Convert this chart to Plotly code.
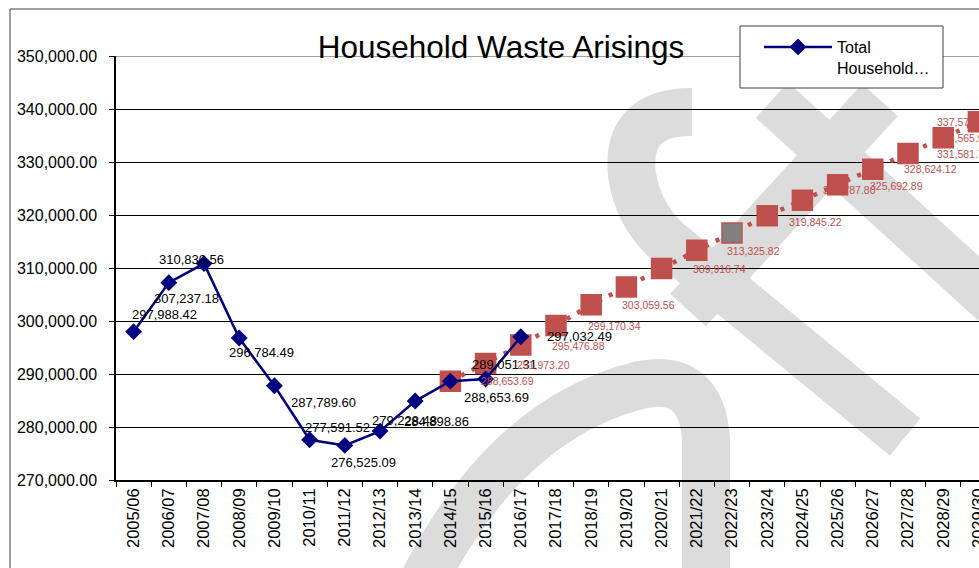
import plotly.graph_objects as go

# ---------------- data ----------------
categories = ["2005/06", "2006/07", "2007/08", "2008/09", "2009/10", "2010/11",
              "2011/12", "2012/13", "2013/14", "2014/15", "2015/16", "2016/17",
              "2017/18", "2018/19", "2019/20", "2020/21", "2021/22", "2022/23",
              "2023/24", "2024/25", "2025/26", "2026/27", "2027/28", "2028/29",
              "2029/30"]

hist_categories = categories[:12]
hist_values = [297988.42, 307237.18, 310830.56, 296784.49, 287789.60, 277591.52,
               276525.09, 279228.48, 284898.86, 288653.69, 289051.31, 297032.49]

forecast_categories = categories[9:]
forecast_values = [288653.69, 291973.20, 295476.88, 299170.34, 303059.56, 306430.00,
                   309916.74, 313325.82, 316600.00, 319845.22, 322787.80, 325692.89,
                   328624.12, 331581.74, 334565.98, 337577.07]
forecast_labelled = [True, True, True, True, True, False, True, True, False, True,
                     True, True, True, True, True, True]

series_name = "Total<br>Household…"
title_text = "Household Waste Arisings"

# ---------------- styling ----------------
NAVY = "#000080"
RED = "#C0504D"
GREY_MARK = "#808080"
WM = "#DCDCDC"
FONT = "Liberation Sans, Arial, sans-serif"

W, H = 979, 568
PL, PR, PT, PB = 116, 979, 56, 480   # plot area in pixels

# label offsets (pixels, right / down) relative to each point
hist_label_offsets = [(31, -17), (18, 16), (-13, -4), (22, 14), (49, 17), (28, -12),
                      (19, 17), (24, -11), (21, 20), (46, 16), (19, -15), (59, 0)]
forecast_label_offsets = [(29, 0), (29, 1), (29, 1), (30, 1), (29, 0), (29, 0),
                          (29, 1), (28, 1), (29, 0), (20, 6), (19, -10), (30, 1),
                          (29, 0), (27, 0), (-8, 0), (-43, 0)]
forecast_marker_colors = [GREY_MARK if c == "2022/23" else RED for c in forecast_categories]


def px(x, y):
    """pixel -> paper coordinates"""
    return (x - PL) / (PR - PL), (PB - y) / (PB - PT)


def path(cmds):
    out = []
    for c in cmds:
        if isinstance(c, str):
            out.append(c)
        else:
            a, b = px(*c)
            out.append(f"{a:.4f},{b:.4f}")
    return " ".join(out)


fig = go.Figure()

fig.add_trace(go.Scatter(
    x=forecast_categories, y=forecast_values, mode="lines+markers",
    line=dict(color=RED, width=4.5, dash="4px,8px"),
    marker=dict(symbol="square", size=20, color=forecast_marker_colors,
                line=dict(color=RED, width=1.5)),
    showlegend=False, name="Forecast", hoverinfo="x+y"))

fig.add_trace(go.Scatter(
    x=hist_categories, y=hist_values, mode="lines+markers",
    line=dict(color=NAVY, width=2.5),
    marker=dict(symbol="diamond", size=13, color=NAVY),
    name=series_name, hoverinfo="x+y"))

annotations = []
for c, v, (dx, dy) in zip(hist_categories, hist_values, hist_label_offsets):
    annotations.append(dict(x=c, y=v, xref="x", yref="y", text=f"{v:,.2f}",
                            showarrow=False, xshift=dx, yshift=-dy,
                            font=dict(family=FONT, size=13, color="black")))
for c, v, show, (dx, dy) in zip(forecast_categories, forecast_values,
                                forecast_labelled, forecast_label_offsets):
    if show:
        annotations.append(dict(x=c, y=v, xref="x", yref="y", text=f"{v:,.2f}",
                                showarrow=False, xanchor="left", xshift=dx, yshift=-dy,
                                font=dict(family=FONT, size=10.5, color=RED)))

shapes = []
# watermark strokes
wm_paths = [
    ["M", (692, 112), "Q", (625, 112), (632, 175), "Q", (638, 215), (668, 242), "L", (905, 437)],
    ["M", (772, 100), "L", (1000, 308)],
    ["M", (880, 100), "L", (688, 310)],
    ["M", (415, 598), "Q", (500, 420), (640, 385), "Q", (702, 372), (706, 440), "L", (706, 600)],
]
for p in wm_paths:
    shapes.append(dict(type="path", xref="paper", yref="paper", path=path(p),
                       line=dict(color=WM, width=48), layer="below"))

# lighter top gridline
shapes.append(dict(type="line", xref="paper", yref="y", x0=0, x1=1, y0=350000, y1=350000,
                   line=dict(color="#808080", width=1.5), layer="between"))

# outer chart frame
x0, y1 = px(10, 9)
x1, y0 = px(1010, 600)
shapes.append(dict(type="rect", xref="paper", yref="paper", x0=x0, y0=y0, x1=x1, y1=y1,
                   line=dict(color="#404040", width=1), fillcolor="rgba(0,0,0,0)",
                   layer="above"))
# legend box
lx0, ly1 = px(740, 26)
lx1, ly0 = px(943, 88)
shapes.append(dict(type="rect", xref="paper", yref="paper", x0=lx0, y0=ly0, x1=lx1, y1=ly1,
                   line=dict(color="#404040", width=1), fillcolor="white", layer="above"))

legx, legy = px(759, 30)

fig.update_layout(
    width=W, height=H,
    margin=dict(l=PL, r=W - PR, t=PT, b=H - PB, pad=0, autoexpand=False),
    paper_bgcolor="white", plot_bgcolor="rgba(0,0,0,0)",
    font=dict(family=FONT, color="black"),
    title=dict(text=title_text, x=501 / W, xref="container", xanchor="center",
               y=1 - 47 / H, yref="container", yanchor="middle",
               font=dict(family=FONT, size=31.5, color="black")),
    xaxis=dict(type="category", categoryorder="array", categoryarray=categories,
               range=[-0.5, -0.5 + (PR - PL) / 35.2], tickangle=-90,
               ticks="outside", tickson="boundaries", ticklen=5, tickcolor="black",
               showline=True, linecolor="black", linewidth=1.5, showgrid=False,
               tickfont=dict(family=FONT, size=16.5, color="black")),
    yaxis=dict(range=[270000, 350000], dtick=10000, tickformat=",.2f",
               showgrid=True, gridcolor="black", gridwidth=1,
               showline=True, linecolor="black", linewidth=1.5,
               ticks="outside", ticklen=5, tickcolor="black", ticklabelstandoff=9,
               zeroline=False,
               tickfont=dict(family=FONT, size=16, color="black")),
    legend=dict(x=legx, y=legy, xanchor="left", yanchor="top", itemwidth=68,
                bgcolor="rgba(0,0,0,0)", borderwidth=0, valign="top",
                font=dict(family=FONT, size=16, color="black")),
    shapes=shapes,
    annotations=annotations,
)

fig.write_html("out.html", config={"displayModeBar": False},
               post_script="document.body.style.margin='0';document.body.style.overflow='hidden';")
